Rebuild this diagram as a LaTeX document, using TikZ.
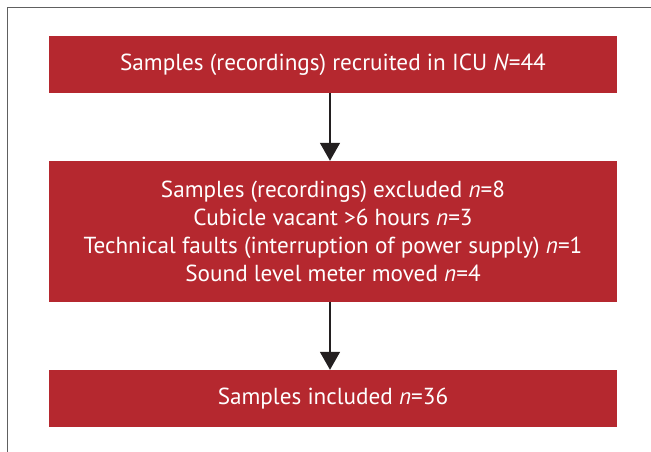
\documentclass[tikz,border=0pt]{standalone}
\usepackage{fontspec}
\setmainfont{PT Sans}
\usetikzlibrary{arrows.meta}
\definecolor{boxred}{HTML}{B5282F}
\definecolor{arrowc}{HTML}{231F20}
\tikzset{
  redbox/.style={fill=boxred, draw=none, minimum width=568pt, text=white, align=center, font=\fontsize{23.2}{28}\selectfont, inner sep=0pt},
  arr/.style={draw=arrowc, line width=1.5pt, -{Triangle[width=20pt,length=18pt]}}
}
\begin{document}
\begin{tikzpicture}[x=1pt,y=1pt]
\useasboundingbox (0,0) rectangle (651,452);
\draw[gray!75!black, line width=1.2pt] (7.5,0) -- (7.5,444.5) -- (651,444.5);
\node[redbox, minimum height=57pt] (b1) at (333,387.5) {Samples (recordings) recruited in ICU \textit{N}=44};
\node[redbox, minimum height=141pt] (b2) at (333,220.5) {Samples (recordings) excluded \textit{n}=8\\Cubicle vacant >6 hours \textit{n}=3\\Technical faults (interruption of power supply) \textit{n}=1\\Sound level meter moved \textit{n}=4};
\node[redbox, minimum height=57pt] (b3) at (333,53.5) {Samples included \textit{n}=36};
\coordinate (ax) at (330,0);
\draw[arr] (b1.south -| ax) -- (b2.north -| ax);
\draw[arr] (b2.south -| ax) -- (b3.north -| ax);
\end{tikzpicture}
\end{document}
